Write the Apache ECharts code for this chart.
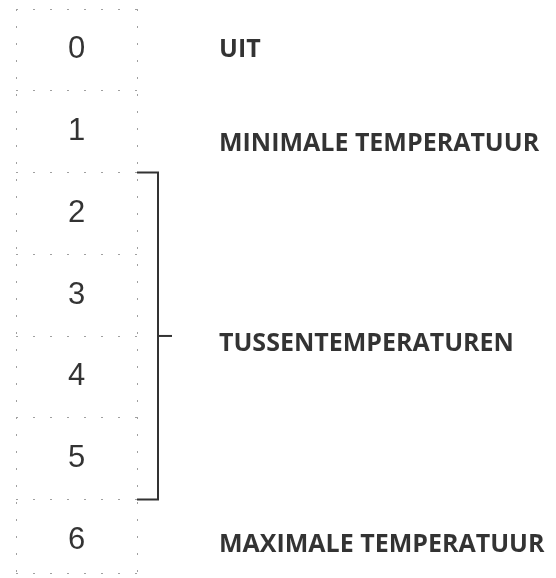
<!DOCTYPE html>
<html>
<head>
<meta charset="utf-8">
<script src="https://cdn.jsdelivr.net/npm/echarts@6/dist/echarts.min.js"></script>
<style>
html,body{margin:0;padding:0;background:#fff;}
#chart{width:556px;height:578px;}
</style>
</head>
<body>
<div id="chart"></div>
<script>
// Data
var levels = ['0', '1', '2', '3', '4', '5', '6'];
var labelTexts = ['UIT', 'MINIMALE TEMPERATUUR', 'TUSSENTEMPERATUREN', 'MAXIMALE TEMPERATUUR'];
var labelAt = [0.5, 1.65, 4.1, 6.56];   // vertical anchor of each label, in level units
var bracketRows = [2, 5];               // rows grouped by the bracket

var digitData = levels.map(function (d, i) { return [0.5, i + 0.5, d]; });
var labelData = labelTexts.map(function (t, i) { return [1, labelAt[i], t]; });
var bracketData = [[bracketRows[0], bracketRows[1] + 1]];

var chart = echarts.init(document.getElementById('chart'));
var dotted = { color: '#a0a0a0', width: 1, type: [2, 15] };
chart.setOption({
  animation: false,
  backgroundColor: '#ffffff',
  grid: { left: 16, right: 419, top: 9, bottom: 5 },
  xAxis: {
    type: 'value', min: 0, max: 1, interval: 1,
    axisLine: { show: false }, axisTick: { show: false }, axisLabel: { show: false },
    splitLine: { show: true, lineStyle: dotted }
  },
  yAxis: {
    type: 'value', inverse: true, min: 0, max: 6.9, interval: 1,
    axisLine: { show: false }, axisTick: { show: false }, axisLabel: { show: false },
    splitLine: { show: true, lineStyle: dotted }
  },
  series: [
    {
      type: 'scatter', symbolSize: 0, silent: true,
      data: digitData,
      label: {
        show: true, position: 'inside',
        formatter: function (p) { return p.data[2]; },
        fontFamily: 'Liberation Sans, Arial, sans-serif', fontSize: 31, color: '#000'
      }
    },
    {
      type: 'scatter', symbolSize: 0, silent: true,
      data: labelData,
      label: {
        show: true, position: [82, 0], align: 'left', verticalAlign: 'middle',
        formatter: function (p) { return p.data[2]; },
        fontFamily: 'Open Sans, sans-serif', fontWeight: 'bold', fontSize: 25, color: '#000'
      }
    },
    {
      type: 'custom', silent: true, clip: false,
      data: bracketData,
      renderItem: function (params, api) {
        var top = api.coord([1, api.value(0)]);
        var bot = api.coord([1, api.value(1)]);
        var mid = api.coord([1, (api.value(0) + api.value(1)) / 2]);
        var armX = top[0] + 21;
        return {
          type: 'group',
          children: [
            { type: 'polyline', shape: { points: [[top[0], top[1]], [armX, top[1]], [armX, bot[1]], [bot[0], bot[1]]] },
              style: { stroke: '#333', lineWidth: 2, fill: null } },
            { type: 'line', shape: { x1: armX, y1: mid[1], x2: armX + 14, y2: mid[1] },
              style: { stroke: '#333', lineWidth: 2 } }
          ]
        };
      }
    }
  ]
});
</script>
</body>
</html>
